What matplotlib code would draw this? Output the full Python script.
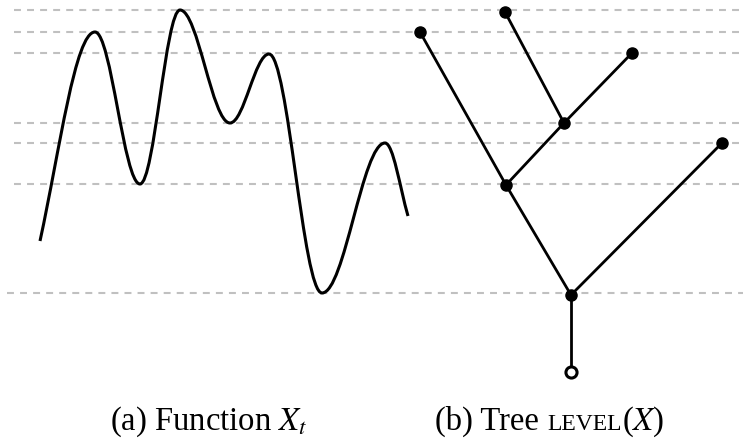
import matplotlib
matplotlib.use("Agg")
import matplotlib.pyplot as plt
from matplotlib.path import Path
from matplotlib.patches import PathPatch

plt.rcParams["font.family"] = ["Liberation Serif", "DejaVu Serif"]
plt.rcParams["mathtext.fontset"] = "stix"
plt.rcParams["lines.scale_dashes"] = False

# Data (read off the picture, units ~ pixels measured upward)
# function X_t: start point, turning points, end point
t_pts = [40, 95, 140, 180, 230, 269, 322, 385, 408]
x_pts = [197, 406, 254, 428, 315, 384, 145, 295, 222]
start_slope = 4.6
end_slope = -3.5

# levels of the local extrema (dashed lines)
levels = [428, 406, 385, 315, 295, 254, 145]
level_start = [14, 14, 14, 14, 14, 14, 7]

# tree LEVEL(X)
node_names = ["A", "B", "C", "D", "E", "F", "G", "H"]
node_x = [420, 505, 632, 564, 722, 506, 571, 571]
node_y = [406, 426, 385, 315, 295, 253, 143, 66]
edges = [("A", "F"), ("B", "D"), ("C", "D"), ("D", "F"),
         ("F", "G"), ("E", "G"), ("G", "H")]

fig = plt.figure(figsize=(7.43, 4.39), dpi=100)
ax = fig.add_axes([0, 0, 1, 1])
ax.set_xlim(0, 743)
ax.set_ylim(0, 439)
ax.axis("off")

# dashed level lines
ax.hlines(levels, level_start, 743, colors="#c0c0c0", linewidth=1.5,
          linestyles=[(0, (5.0, 4.4))], zorder=1)

# smooth curve through the turning points, cubic bezier pieces
slopes = [start_slope] + [0.0] * (len(t_pts) - 2) + [end_slope]
verts = [(t_pts[0], x_pts[0])]
codes = [Path.MOVETO]
for i in range(len(t_pts) - 1):
    h = 0.36 * (t_pts[i + 1] - t_pts[i])
    verts += [(t_pts[i] + h, x_pts[i] + slopes[i] * h),
              (t_pts[i + 1] - h, x_pts[i + 1] - slopes[i + 1] * h),
              (t_pts[i + 1], x_pts[i + 1])]
    codes += [Path.CURVE4] * 3
ax.add_patch(PathPatch(Path(verts, codes), fill=False, edgecolor="black",
                       linewidth=2.2, capstyle="butt", zorder=3))

# tree
pos = dict(zip(node_names, zip(node_x, node_y)))
for a, b in edges:
    ax.plot([pos[a][0], pos[b][0]], [pos[a][1], pos[b][1]],
            color="black", linewidth=2.0, zorder=3)
ax.plot(node_x[:-1], node_y[:-1], "o", color="black", markersize=8, zorder=4)
ax.plot(node_x[-1], node_y[-1], "o", markerfacecolor="white",
        markeredgecolor="black", markersize=8, markeredgewidth=2.2, zorder=4)

# captions
yb = 9 / 439
fs = 23.5
fig.text(110 / 743, yb, "(a) Function $X_t$", fontsize=fs, va="baseline")
t1 = fig.text(435 / 743, yb, "(b) Tree", fontsize=fs, va="baseline")
t2 = ax.annotate("LEVEL", xy=(1, yb), xycoords=(t1, "figure fraction"),
                 xytext=(6, 0), textcoords="offset points",
                 fontsize=17, va="baseline", ha="left")
ax.annotate("($X$)", xy=(1, yb), xycoords=(t2, "figure fraction"),
            xytext=(0.5, 0), textcoords="offset points",
            fontsize=fs, va="baseline", ha="left")

plt.savefig("out.png", dpi=100)
